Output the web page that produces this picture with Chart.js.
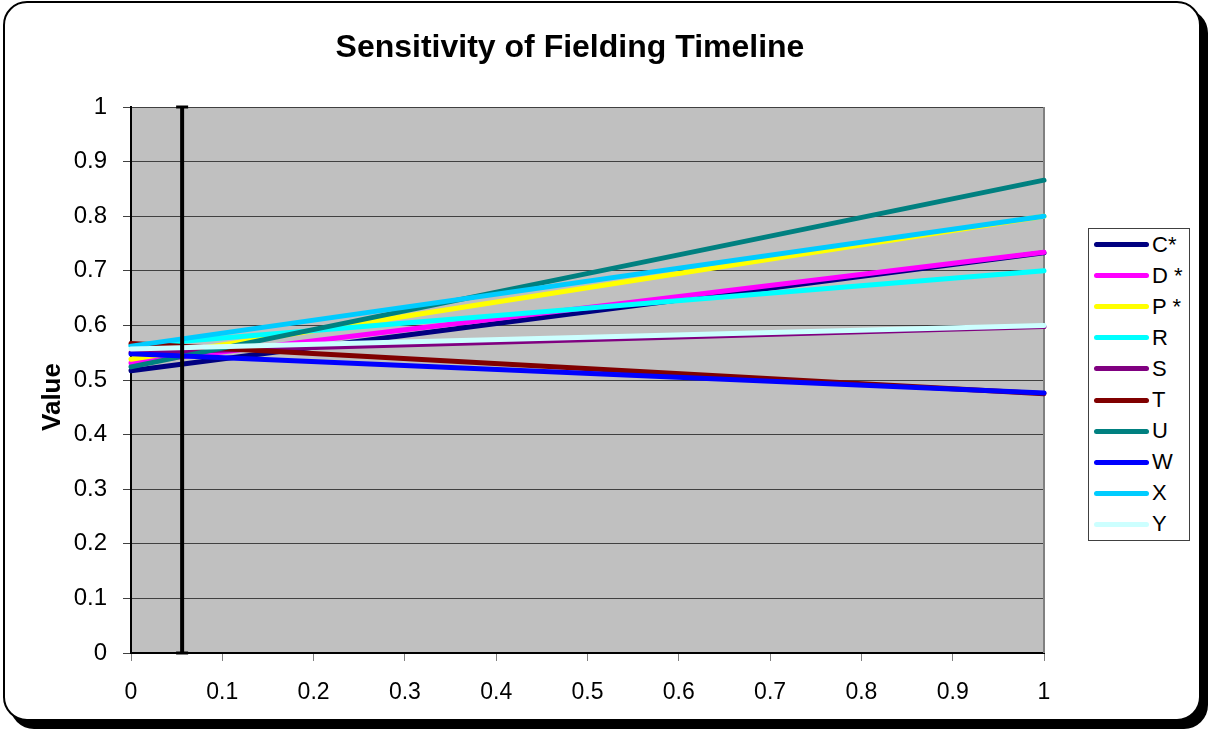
<!DOCTYPE html>
<html>
<head>
<meta charset="utf-8">
<title>Sensitivity of Fielding Timeline</title>
<script src="https://cdn.jsdelivr.net/npm/chart.js@4.4.1/dist/chart.umd.min.js"></script>
<style>
  html, body { margin: 0; padding: 0; background: #fff; }
  body { width: 1209px; height: 730px; position: relative; overflow: hidden; font-family: "Liberation Sans", Arial, sans-serif; }
  .frame {
    position: absolute; left: 3px; top: 1px; width: 1198px; height: 720px;
    box-sizing: border-box; border: 2px solid #000; border-radius: 24px;
    background: #fff; box-shadow: 7px 8px 0 #000;
  }
  #chart { position: absolute; left: 0; top: 0; }
  .legend {
    position: absolute; left: 1088px; top: 228px; width: 102px; height: 313px;
    box-sizing: border-box; border: 1px solid #404040; background: #fff;
  }
  .legend-item { height: 31.1px; display: flex; align-items: center; }
  .legend-line { width: 55px; height: 5px; border-radius: 3px; margin-left: 5px; margin-right: 3px; }
  .legend-text { font-size: 22px; color: #000; line-height: 1; white-space: pre; }
</style>
</head>
<body>
<div class="frame"></div>
<canvas id="chart" width="1209" height="730"></canvas>
<div class="legend" id="legend"></div>
<script>
const xValues = [0, 1];

const seriesNames = ["C*", "D *", "P *", "R", "S", "T", "U", "W", "X", "Y"];
const seriesColors = ["#000080", "#ff00ff", "#ffff00", "#00ffff", "#800080", "#800000", "#008080", "#0000ff", "#00ccff", "#ccffff"];

const cStar = [0.517, 0.733];
const dStar = [0.531, 0.734];
const pStar = [0.538, 0.800];
const rVals = [0.563, 0.700];
const sVals = [0.550, 0.598];
const tVals = [0.567, 0.475];
const uVals = [0.524, 0.866];
const wVals = [0.548, 0.476];
const xVals = [0.562, 0.800];
const yVals = [0.557, 0.600];

const seriesValues = [cStar, dStar, pStar, rVals, sVals, tVals, uVals, wVals, xVals, yVals];

// vertical marker (black bar with caps)
const markerX = 0.056;
const markerRange = [0, 1];

const xTickLabels = ["0", "0.1", "0.2", "0.3", "0.4", "0.5", "0.6", "0.7", "0.8", "0.9", "1"];
const yTickLabels = ["0", "0.1", "0.2", "0.3", "0.4", "0.5", "0.6", "0.7", "0.8", "0.9", "1"];

const FONT = '"Liberation Sans", Arial, sans-serif';
Chart.defaults.font.family = FONT;
Chart.defaults.color = "#000";

const datasets = seriesValues.map((vals, i) => ({
  label: seriesNames[i],
  data: xValues.map((x, j) => ({ x, y: vals[j] })),
  borderColor: seriesColors[i],
  backgroundColor: seriesColors[i],
  borderWidth: 5,
  borderCapStyle: "round",
  pointRadius: 0,
  fill: false,
  clip: false,
  order: seriesValues.length - i,
}));

datasets.push({
  label: "marker",
  data: markerRange.map((y) => ({ x: markerX, y })),
  borderColor: "#000",
  borderWidth: 4,
  pointStyle: "line",
  pointRadius: 6,
  pointBorderWidth: 3,
  pointBorderColor: "#000",
  clip: false,
  order: -1,
});

const framePlugin = {
  id: "framePlugin",
  beforeDraw(chart) {
    const { ctx, chartArea: a } = chart;
    ctx.save();
    ctx.fillStyle = "#c0c0c0";
    ctx.fillRect(a.left, a.top, a.right - a.left, a.bottom - a.top);
    ctx.restore();
  },
  beforeDatasetsDraw(chart) {
    const { ctx, chartArea: a } = chart;
    ctx.save();
    ctx.strokeStyle = "#808080";
    ctx.lineWidth = 2;
    ctx.beginPath();
    ctx.moveTo(a.right, a.top);
    ctx.lineTo(a.right, a.bottom);
    ctx.stroke();
    ctx.restore();
  },
  afterDraw(chart) {
    const { ctx } = chart;
    ctx.save();
    ctx.fillStyle = "#000";
    ctx.textAlign = "center";
    ctx.textBaseline = "middle";
    ctx.font = "bold 32px " + FONT;
    ctx.fillText("Sensitivity of Fielding Timeline", 570, 48);
    ctx.translate(53, 397);
    ctx.rotate(-Math.PI / 2);
    ctx.font = "bold 26px " + FONT;
    ctx.fillText("Value", 0, 0);
    ctx.restore();
  },
};

new Chart(document.getElementById("chart"), {
  type: "line",
  data: { datasets },
  options: {
    responsive: false,
    animation: false,
    layout: { padding: { top: 107, left: 0, right: 165, bottom: 0 } },
    plugins: {
      legend: { display: false },
      title: { display: false },
      tooltip: { enabled: false },
    },
    scales: {
      x: {
        type: "linear",
        min: 0,
        max: 1,
        afterFit: (s) => { s.height = 77; },
        ticks: {
          stepSize: 0.1,
          padding: 18,
          maxRotation: 0,
          autoSkip: false,
          font: { size: 23 },
          color: "#000",
          callback: (v, i) => xTickLabels[i],
        },
        grid: { drawOnChartArea: false, drawTicks: true, tickLength: 8, tickColor: "#808080" },
        border: { color: "#000", width: 2 },
      },
      y: {
        type: "linear",
        min: 0,
        max: 1,
        afterFit: (s) => { s.width = 131; },
        ticks: {
          stepSize: 0.1,
          padding: 16,
          autoSkip: false,
          font: { size: 24 },
          color: "#000",
          callback: (v, i) => yTickLabels[i],
        },
        grid: { color: "#404040", lineWidth: 1, tickLength: 8, tickColor: "#404040" },
        border: { color: "#000", width: 2 },
      },
    },
  },
  plugins: [framePlugin],
});

// legend built from the series arrays
const legendEl = document.getElementById("legend");
seriesNames.forEach((name, i) => {
  const item = document.createElement("div");
  item.className = "legend-item";
  item.innerHTML = `<div class="legend-line" style="background:${seriesColors[i]}"></div><span class="legend-text">${name}</span>`;
  legendEl.appendChild(item);
});
</script>
</body>
</html>
